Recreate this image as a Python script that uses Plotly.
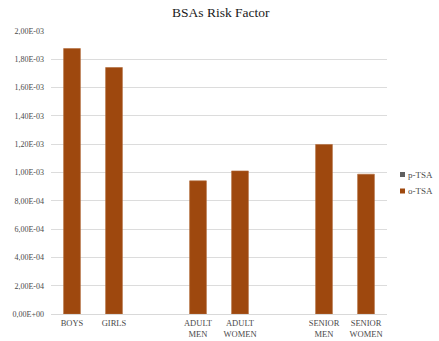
import plotly.graph_objects as go

# Age/sex groups (blank entries leave the gaps between groups)
categories = ["BOYS", "GIRLS", " ", "ADULT<br>MEN", "ADULT<br>WOMEN", "  ", "SENIOR<br>MEN", "SENIOR<br>WOMEN"]
p_tsa = [0, 0, None, 0, 0, None, 0, 0]
o_tsa = [1.876e-3, 1.742e-3, None, 0.941e-3, 1.011e-3, None, 1.198e-3, 0.988e-3]
series_names = ["p-TSA", "o-TSA"]

y_ticks = [i * 2e-4 for i in range(11)]


def sci_label(v):
    mant, exp = f"{v:.2E}".split("E")
    return mant.replace(".", ",") + "E" + exp


y_labels = [sci_label(v) for v in y_ticks]

serif = "Liberation Serif"
grey_text = "#4a4a4a"
p_color = "#5f5f5f"
o_color = "#9e480e"
series_colors = [p_color, o_color]

W, H = 439, 341
L, R, T, B = 51, 52, 31, 27


def px_to_paper(px, py):
    return (px - L) / (W - L - R), (H - B - py) / (H - T - B)


fig = go.Figure()
fig.add_trace(go.Bar(x=categories, y=p_tsa, name=series_names[0], marker_color=p_color, width=0.4))
fig.add_trace(go.Bar(x=categories, y=o_tsa, name=series_names[1], marker_color=o_color,
                     marker_line=dict(color="#b06a3a", width=0.6), width=0.4))

# Compact legend: small square key followed by the series name
for i, (name, color) in enumerate(zip(series_names, series_colors)):
    cy = 174.5 + 16.5 * i
    x0, y0 = px_to_paper(400, cy + 2.5)
    x1, y1 = px_to_paper(405, cy - 2.5)
    fig.add_shape(type="rect", xref="paper", yref="paper", x0=x0, x1=x1, y0=y0, y1=y1,
                  fillcolor=color, line=dict(width=0))
    tx, ty = px_to_paper(405.5, cy)
    fig.add_annotation(text=name, xref="paper", yref="paper", x=tx, y=ty,
                       xanchor="left", yanchor="middle", showarrow=False,
                       font=dict(family=serif, size=9, color=grey_text))

fig.update_layout(
    width=W, height=H,
    margin=dict(l=L, r=R, t=T, b=B, autoexpand=False),
    paper_bgcolor="white", plot_bgcolor="white",
    barmode="overlay",
    font=dict(family=serif, color=grey_text, size=8),
    title=dict(text="BSAs Risk Factor", x=0.503, xanchor="center", y=0.965, yanchor="middle",
               font=dict(family=serif, size=13.5, color="#1a1a1a")),
    showlegend=False,
    xaxis=dict(type="category", categoryorder="array", categoryarray=categories,
               showgrid=False, showline=True, linecolor="#d9d9d9", linewidth=1,
               ticks="", tickfont=dict(family=serif, size=8.5, color=grey_text),
               ticklabelstandoff=1),
    yaxis=dict(range=[0, 2e-3], tickvals=y_ticks, ticktext=y_labels,
               showgrid=True, gridcolor="#dcdcdc", gridwidth=1,
               zeroline=False, showline=False, ticks="",
               tickfont=dict(family=serif, size=8, color=grey_text),
               ticklabelstandoff=6),
)

fig.write_html("out.html")
